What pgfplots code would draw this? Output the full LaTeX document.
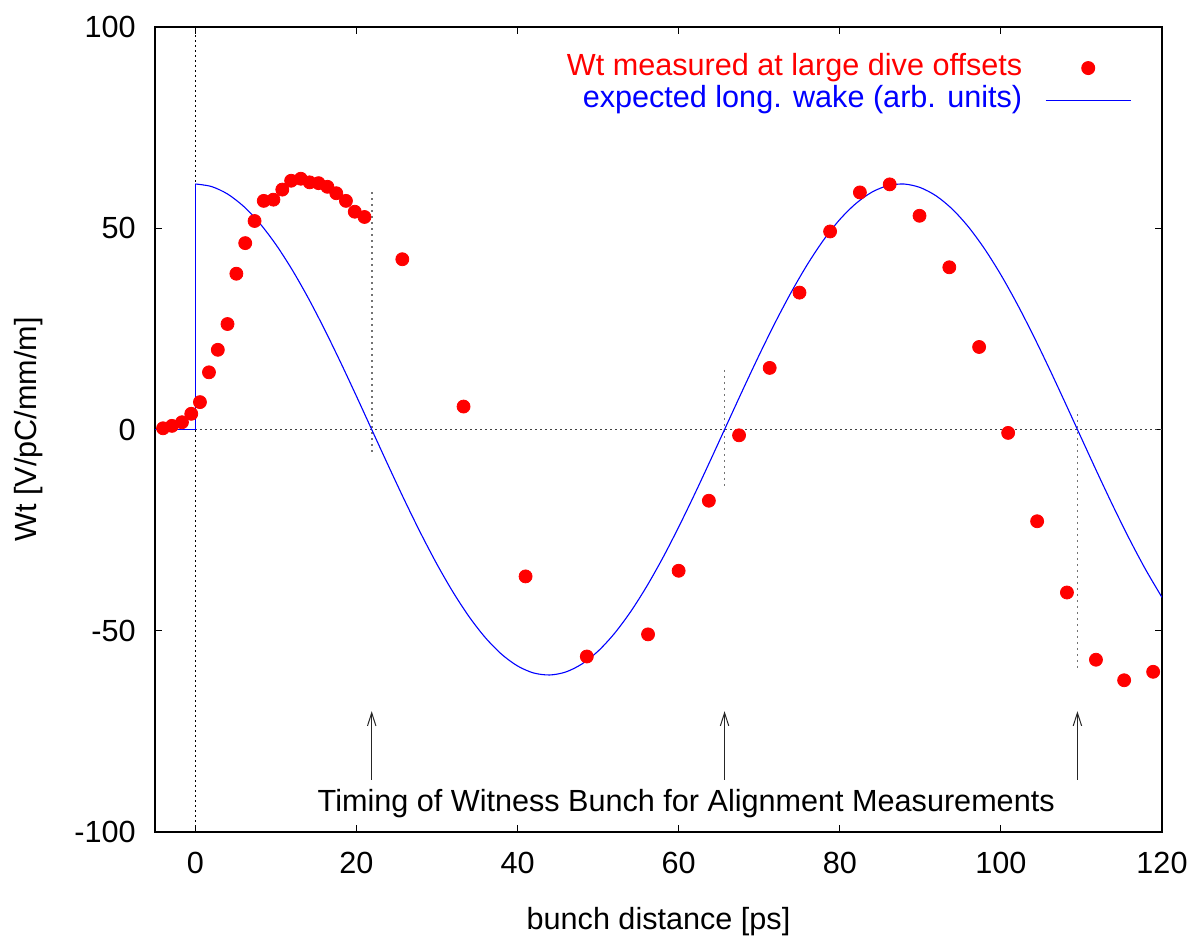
\documentclass[border=0pt]{standalone}
\usepackage{fontspec}
\setmainfont{Liberation Sans}
\usepackage{pgfplots}
\pgfplotsset{compat=1.18}
\usetikzlibrary{arrows.meta}
\newcommand\myfont{\fontsize{15.3}{18.4}\selectfont}
\definecolor{gpred}{RGB}{255,0,0}
\definecolor{gpblue}{RGB}{0,0,255}
\begin{document}
\begin{tikzpicture}[font=\myfont]
\begin{axis}[
  scale only axis,
  width=503.5pt, height=402.5pt,
  xmin=-5, xmax=120, ymin=-100, ymax=100,
  xtick={0,20,40,60,80,100,120},
  ytick={-100,-50,0,50,100},
  tick align=inside,
  xtick pos=both, ytick pos=both,
  major tick length=3.5pt,
  minor tick num=0,
  axis line style={line width=0.6pt, black},
  every tick/.style={black, line width=0.6pt},
  /pgf/number format/assume math mode=true,
  tick label style={font=\myfont},
  yticklabel style={anchor=east, inner sep=0pt, xshift=-9.5pt},
  xticklabel style={anchor=north, inner sep=0pt, yshift=-10pt},
  xlabel={bunch distance [ps]},
  ylabel={Wt [V/pC/mm/m]},
  xlabel style={font=\myfont, at={(axis description cs:0.5,-0.1118)}, anchor=center, inner sep=0pt},
  ylabel style={font=\myfont, at={(axis description cs:-0.1172,0.5)}, anchor=base, inner sep=0pt},
  legend plot pos=right,
  legend cell align=right,
  legend style={draw=none, fill=none, font=\myfont,
    at={(axis description cs:0.9695,0.967)}, anchor=north east,
    inner sep=0pt, outer sep=0pt, row sep=1.5pt, column sep=11.5pt,
    nodes={inner sep=0pt, text height=11.2pt, text depth=3.3pt}},
]
% zero axes
\addplot[forget plot, black!75, line width=0.5pt, dash pattern=on 1pt off 1.5pt] coordinates {(-5,0) (120,0)};
\addplot[forget plot, black, line width=0.5pt, dash pattern=on 1pt off 1.5pt] coordinates {(0,-100) (0,100)};
% witness timing lines
\addplot[forget plot, black!55, line width=0.8pt, dash pattern=on 1pt off 2pt] coordinates {(21.9,59) (21.9,-5.6)};
\addplot[forget plot, black!55, line width=0.8pt, dash pattern=on 1pt off 2pt] coordinates {(65.7,14.8) (65.7,-15)};
\addplot[forget plot, black!55, line width=0.8pt, dash pattern=on 1pt off 2pt] coordinates {(109.5,3.9) (109.5,-60)};
% arrows
\addplot[forget plot, black!85, line width=0.5pt, -{Straight Barb[length=6.5pt,width=4.2pt]}] coordinates {(21.9,-87) (21.9,-70)};
\addplot[forget plot, black!85, line width=0.5pt, -{Straight Barb[length=6.5pt,width=4.2pt]}] coordinates {(65.7,-87) (65.7,-70)};
\addplot[forget plot, black!85, line width=0.5pt, -{Straight Barb[length=6.5pt,width=4.2pt]}] coordinates {(109.5,-87) (109.5,-70)};
\node[anchor=base west, inner sep=0pt, font=\myfont] at (axis cs:15.15,-94.8) {Timing of Witness Bunch for Alignment Measurements};
% measured points
\addplot[only marks, mark=*, mark size=3.25pt, color=gpred, fill=gpred,
  legend image code/.code={%
    \pgfpathmoveto{\pgfpoint{0pt}{0pt}}\pgfpathlineto{\pgfpoint{42.5pt}{0pt}}\pgfusepath{use as bounding box}%
    \pgfsetfillcolor{gpred}\pgfpathcircle{\pgfpoint{21.25pt}{0pt}}{3.5pt}\pgfusepath{fill}}]
coordinates {
(-4.0,0.3) (-2.9,0.9) (-1.65,1.8) (-0.5,3.9) (0.58,6.8) (1.7,14.2) (2.8,19.8) (4.0,26.2)
(5.1,38.7) (6.2,46.3) (7.36,51.8) (8.5,56.8) (9.7,57.1) (10.8,59.6) (11.9,61.8) (13.1,62.3)
(14.2,61.4) (15.3,61.2) (16.4,60.3) (17.5,58.7) (18.7,56.8) (19.8,54.1) (21.0,52.8)
(25.7,42.3) (33.3,5.7) (41.0,-36.5) (48.6,-56.4) (56.2,-50.9) (60.0,-35.1) (63.75,-17.7)
(67.5,-1.45) (71.3,15.3) (75.0,34.0) (78.8,49.2) (82.5,58.9) (86.2,60.9) (89.9,53.1)
(93.6,40.3) (97.3,20.5) (100.9,-0.85) (104.5,-22.8) (108.2,-40.5) (111.8,-57.2)
(115.3,-62.3) (118.9,-60.2)
};
\addlegendentry{\textcolor{gpred}{Wt measured at large dive offsets}}
% expected wake: step at zero
\addplot[forget plot, gpblue, line width=0.65pt, mark=none]
coordinates {(-5,0) (0,0) (0,61.00)};
% expected wake: oscillation
\addplot[gpblue, line width=0.55pt, mark=none, smooth, tension=0.5,
  legend image code/.code={\draw[gpblue, line width=0.55pt] (0pt,0pt) -- (42.5pt,0pt);}]
coordinates {
(0,61.00) (2,60.37) (4,58.51) (6,55.44) (8,51.23) (10,45.97) (12,39.77)
(14,32.75) (16,25.05) (18,16.84) (20,8.29) (22,-0.44) (24,-9.15) (26,-17.68) (28,-25.84)
(30,-33.48) (32,-40.42) (34,-46.54) (36,-51.70) (38,-55.80) (40,-58.75) (42,-60.49)
(44,-60.99) (46,-60.24) (48,-58.25) (50,-55.07) (52,-50.75) (54,-45.39) (56,-39.10)
(58,-32.01) (60,-24.25) (62,-16.00) (64,-7.42) (66,1.31) (68,10.01) (70,18.51) (72,26.63)
(74,34.20) (76,41.07) (78,47.10) (80,52.16) (82,56.14) (84,58.98) (86,60.60) (88,60.98)
(90,60.10) (92,57.99) (94,54.69) (96,50.26) (98,44.80) (100,38.43) (102,31.26) (104,23.45)
(106,15.16) (108,6.56) (110,-2.18) (112,-10.87) (114,-19.34) (116,-27.41) (118,-34.92)
(120,-41.71)
};
\addlegendentry{\textcolor{gpblue}{expected long. wake (arb. units)}}
\end{axis}
\pgfresetboundingbox
\path[use as bounding box] ([shift={(-77.5pt,-54.5pt)}]current axis.south west) rectangle ([shift={(18.5pt,13.5pt)}]current axis.north east);
\end{tikzpicture}
\end{document}
